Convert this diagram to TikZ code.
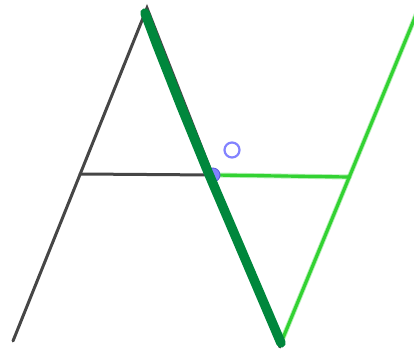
\documentclass[tikz,border=0pt]{standalone}
\definecolor{agray}{RGB}{70,70,70}
\definecolor{lgr}{RGB}{50,210,50}
\definecolor{dgr}{RGB}{0,135,60}
\definecolor{ptblue}{RGB}{130,130,255}
\definecolor{ptedge}{RGB}{90,90,220}
\begin{document}
\begin{tikzpicture}[x=1pt,y=-1pt,
  aline/.style={draw=agray,line width=3pt,line cap=round},
  lgreen/.style={draw=lgr,line width=5pt,line cap=round,draw opacity=0.35},
  lgreencore/.style={draw=lgr,line width=3.2pt,line cap=round},
  dgreen/.style={draw=dgr,line width=9.5pt,line cap=round,line join=round}]
\useasboundingbox (0,0) rectangle (414,355);
\coordinate (L) at (13,341);
\coordinate (T) at (147,8);
\coordinate (R) at (280,347);
\coordinate (CL) at (80,174);
\coordinate (P) at (213,175);
\coordinate (CR) at (349,177);
\coordinate (VB) at (283,338);
\coordinate (VT) at (418,10);
% letter A
\draw[aline] (L) -- (T) -- (R);
\draw[aline] (CL) -- (P);
% light green V and bar
\draw[lgreen] (VB) -- (VT);
\draw[lgreencore] (VB) -- (VT);
\draw[lgreen] (P) -- (CR);
\draw[lgreencore] (P) -- (CR);
% point
\fill[ptblue,draw=ptedge,line width=0.8pt] (P) circle (7);
% dark green stroke
\draw[dgreen] (145,13) -- (157,45) -- (181,106) -- (208,172) -- (281,343);
% small circle
\draw[ptblue,line width=2.2pt] (232,150) circle (7.5);
\end{tikzpicture}
\end{document}
